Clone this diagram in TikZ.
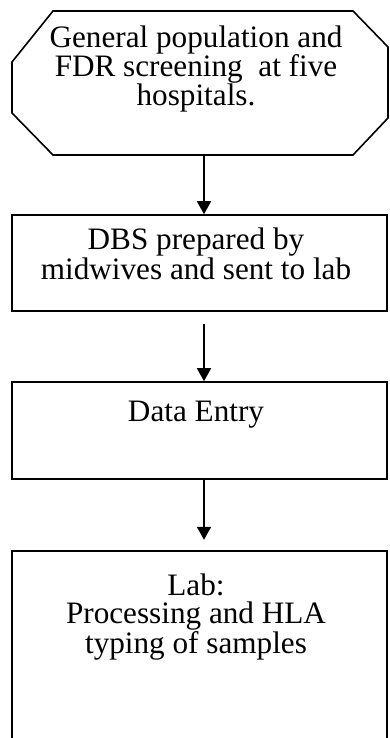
\documentclass[tikz,border=0pt]{standalone}
\usepackage{fontspec}
\setmainfont{Liberation Serif}
\usetikzlibrary{arrows.meta}
\begin{document}
\begin{tikzpicture}[x=1pt,y=-1pt,
  frame/.style={draw=none,inner sep=0pt,minimum width=375pt},
  edge/.style={line width=1.6pt,line join=miter},
  arr/.style={line width=1.6pt,-{Triangle[width=14pt,length=13pt]}},
  txt/.style={align=center,anchor=base,inner sep=0pt,font=\fontsize{31.2}{28}\selectfont}]
\useasboundingbox (0,0) rectangle (389,738);
\clip (0,0) rectangle (389,738);
% octagon
\node[frame,minimum height=144pt] (n1) at (199.5,83) {};
\draw[edge] (53,11) -- (353,11) -- (388,47) -- (388,118) -- (353,155) -- (53,155) -- (12,113) -- (12,62) -- cycle;
\node[txt] (t1) at (196,106) {General population and\\FDR screening\ \ at five\\hospitals.};
% boxes
\node[frame,draw,edge,minimum height=96pt] (n2) at (199.5,263) {};
\node[txt] (t2) at (196,279) {DBS prepared by\\midwives and sent to lab};
\node[frame,draw,edge,minimum height=97pt] (n3) at (199.5,430.5) {};
\node[txt] (t3) at (196,421) {Data Entry};
\node[frame,minimum height=200pt] (n4) at (199.5,651) {};
\draw[edge] (n4.south west) -- (n4.north west) -- (n4.north east) -- (n4.south east);
\node[txt] (t4) at (196,653) {Lab:\\Processing and HLA\\typing of samples};
% arrows
\coordinate (ax) at (204,0);
\draw[arr] (n1.south -| ax) -- (n2.north -| ax);
\draw[arr,shorten <=12pt] (n2.south -| ax) -- (n3.north -| ax);
\draw[arr,shorten >=11pt] (n3.south -| ax) -- (n4.north -| ax);
\end{tikzpicture}
\end{document}
